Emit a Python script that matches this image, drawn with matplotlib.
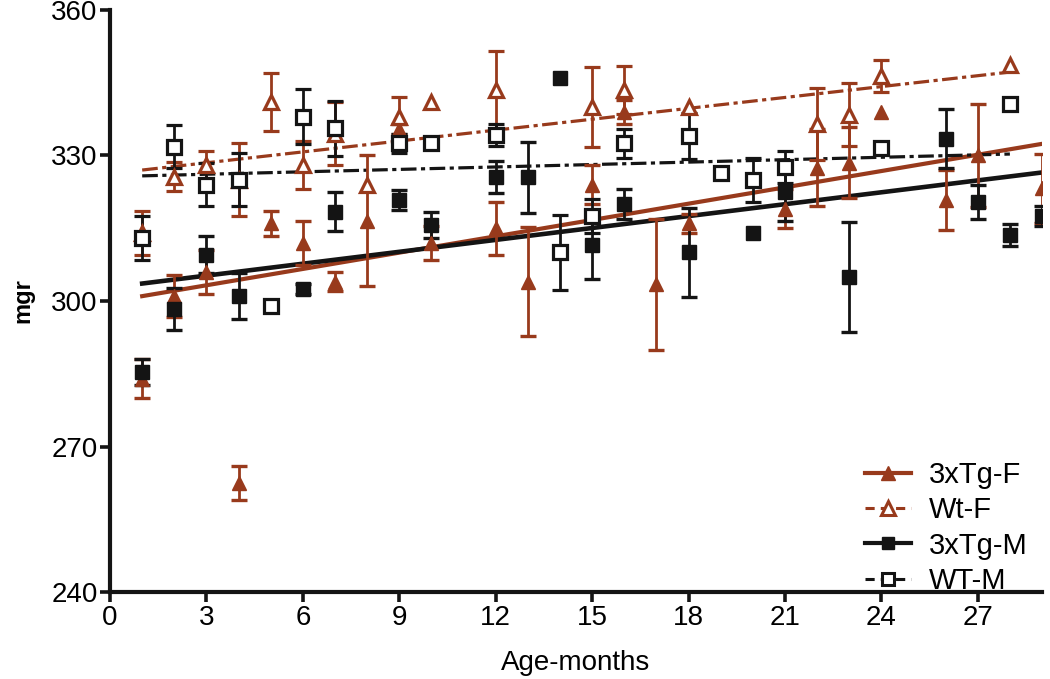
import numpy as np
import matplotlib
matplotlib.use('Agg')
import matplotlib.pyplot as plt
from matplotlib.lines import Line2D

nan = np.nan

# 3xTg-F (filled triangles)
tgf_age = [1, 2, 3, 4, 5, 6, 7, 8, 9, 10, 12, 13, 15, 16, 17, 18, 21, 22, 23, 24, 26, 27, 29]
tgf_mgr = [284.0, 301.0, 306.0, 262.5, 316.0, 312.0, 304.0, 316.5, 335.5, 312.0, 315.0, 304.0,
           324.0, 339.0, 303.5, 316.0, 319.0, 327.5, 328.5, 339.0, 320.8, 330.0, 323.2]
tgf_err = [4.0, 4.3, 4.5, 3.5, 2.5, 4.5, 2.0, 13.5, 1.0, 3.5, 5.5, 11.3,
           4.0, 2.5, 13.5, 2.0, 4.0, 8.0, 7.3, nan, 6.2, 10.7, 7.2]

# Wt-F (open triangles)
wtf_age = [1, 2, 3, 4, 5, 6, 7, 8, 9, 10, 12, 15, 16, 18, 22, 23, 24, 28]
wtf_mgr = [314.0, 325.6, 328.0, 325.0, 341.0, 328.0, 334.5, 324.0, 338.0, 341.0, 343.5,
           340.0, 343.5, 340.0, 336.5, 338.4, 346.3, 348.7]
wtf_err = [4.5, 3.0, 3.0, 7.5, 6.0, 5.0, 6.5, nan, 4.0, nan, 8.0,
           8.2, 5.0, nan, 7.5, 6.5, 3.3, nan]

# 3xTg-M (filled squares)
tgm_age = [1, 2, 3, 4, 6, 7, 9, 10, 12, 13, 14, 15, 16, 18, 20, 21, 23, 26, 27, 28, 29]
tgm_mgr = [285.4, 298.4, 309.5, 301.0, 302.5, 318.4, 320.8, 315.7, 325.6, 325.5, 346.0,
           311.5, 320.0, 310.0, 314.0, 322.5, 305.0, 333.5, 320.5, 313.6, 317.5]
tgm_err = [2.7, 4.3, 3.8, 4.7, 1.0, 4.0, 2.0, 2.7, 3.3, 7.3, nan,
           7.0, 3.0, 9.2, nan, 6.0, 11.3, 6.1, 3.5, 2.3, 2.0]

# WT-M (open squares)
wtm_age = [1, 2, 3, 4, 5, 6, 7, 9, 10, 12, 14, 15, 16, 18, 19, 20, 21, 24, 28]
wtm_mgr = [313.0, 331.8, 324.0, 325.0, 299.0, 338.0, 335.6, 332.5, 332.5, 334.2, 310.0,
           317.5, 332.5, 334.0, 326.3, 325.0, 327.7, 331.5, 340.6]
wtm_err = [4.5, 4.4, 4.5, 5.5, nan, 5.7, 5.7, 2.0, nan, 2.3, 7.7,
           3.5, 3.0, 4.7, nan, 4.5, 3.3, nan, nan]

# regression lines (end points)
fit_tgf_age, fit_tgf = [1, 29], [301.0, 332.4]
fit_wtf_age, fit_wtf = [1, 28], [327.0, 347.2]
fit_tgm_age, fit_tgm = [1, 29], [303.6, 326.5]
fit_wtm_age, fit_wtm = [1, 28], [325.8, 330.3]

BROWN = '#983A1C'
BLACK = '#141414'
dashdot = (0, (4.9, 1.4, 1.3, 1.4))

plt.rcParams['font.family'] = ['Liberation Sans', 'DejaVu Sans']

fig = plt.figure(figsize=(10.5, 6.79), dpi=100)
ax = fig.add_axes([0.1048, 0.1281, 0.8876, 0.8572])

# Fit lines
ax.plot(fit_tgf_age, fit_tgf, color=BROWN, lw=3.0, zorder=2)
ax.plot(fit_wtf_age, fit_wtf, color=BROWN, lw=2.3, ls=dashdot, zorder=2)
ax.plot(fit_tgm_age, fit_tgm, color=BLACK, lw=3.3, zorder=2)
ax.plot(fit_wtm_age, fit_wtm, color=BLACK, lw=2.3, ls=dashdot, zorder=2)

ebkw = dict(elinewidth=2.0, capsize=6, capthick=2.4, linestyle='none', zorder=3)
ax.errorbar(tgf_age, tgf_mgr, yerr=tgf_err, fmt='^', color=BROWN, ms=10.5,
            mfc=BROWN, mec=BROWN, **ebkw)
ax.errorbar(wtf_age, wtf_mgr, yerr=wtf_err, fmt='^', color=BROWN, ms=10.5,
            mfc='white', mec=BROWN, mew=2.3, **ebkw)
ax.errorbar(tgm_age, tgm_mgr, yerr=tgm_err, fmt='s', color=BLACK, ms=9.5,
            mfc=BLACK, mec=BLACK, **ebkw)
ax.errorbar(wtm_age, wtm_mgr, yerr=wtm_err, fmt='s', color=BLACK, ms=9.5,
            mfc='white', mec=BLACK, mew=2.3, **ebkw)

# Axes decorations
ax.set_xlim(0, 29)
ax.set_ylim(240, 360)
ax.set_xticks(range(0, 28, 3))
ax.set_yticks(range(240, 361, 30))
for s in ['top', 'right']:
    ax.spines[s].set_visible(False)
for s in ['left', 'bottom']:
    ax.spines[s].set_linewidth(3)
    ax.spines[s].set_color(BLACK)
ax.tick_params(direction='out', length=7, width=2.6, labelsize=20, color=BLACK, pad=2)
ax.set_xlabel('Age-months', fontsize=20, labelpad=14)
ax.set_ylabel('mgr', fontsize=17, fontweight='bold', labelpad=12)

handles = [
    Line2D([], [], color=BROWN, lw=3, marker='^', ms=10, mfc=BROWN, mec=BROWN),
    Line2D([], [], color=BROWN, lw=2.2, ls=(0, (3, 2)), marker='^', ms=10, mfc='white', mec=BROWN, mew=2.2),
    Line2D([], [], color=BLACK, lw=3, marker='s', ms=9, mfc=BLACK, mec=BLACK),
    Line2D([], [], color=BLACK, lw=2.2, ls=(0, (3, 2)), marker='s', ms=9, mfc='white', mec=BLACK, mew=2.2),
]
labels = ['3xTg-F', 'Wt-F', '3xTg-M', 'WT-M']
ax.legend(handles, labels, loc='lower right', bbox_to_anchor=(1.0, -0.03), frameon=False,
          fontsize=21, handlelength=1.6, handletextpad=0.6, labelspacing=0.25,
          borderaxespad=0.1)

fig.savefig('out.png', dpi=100)
